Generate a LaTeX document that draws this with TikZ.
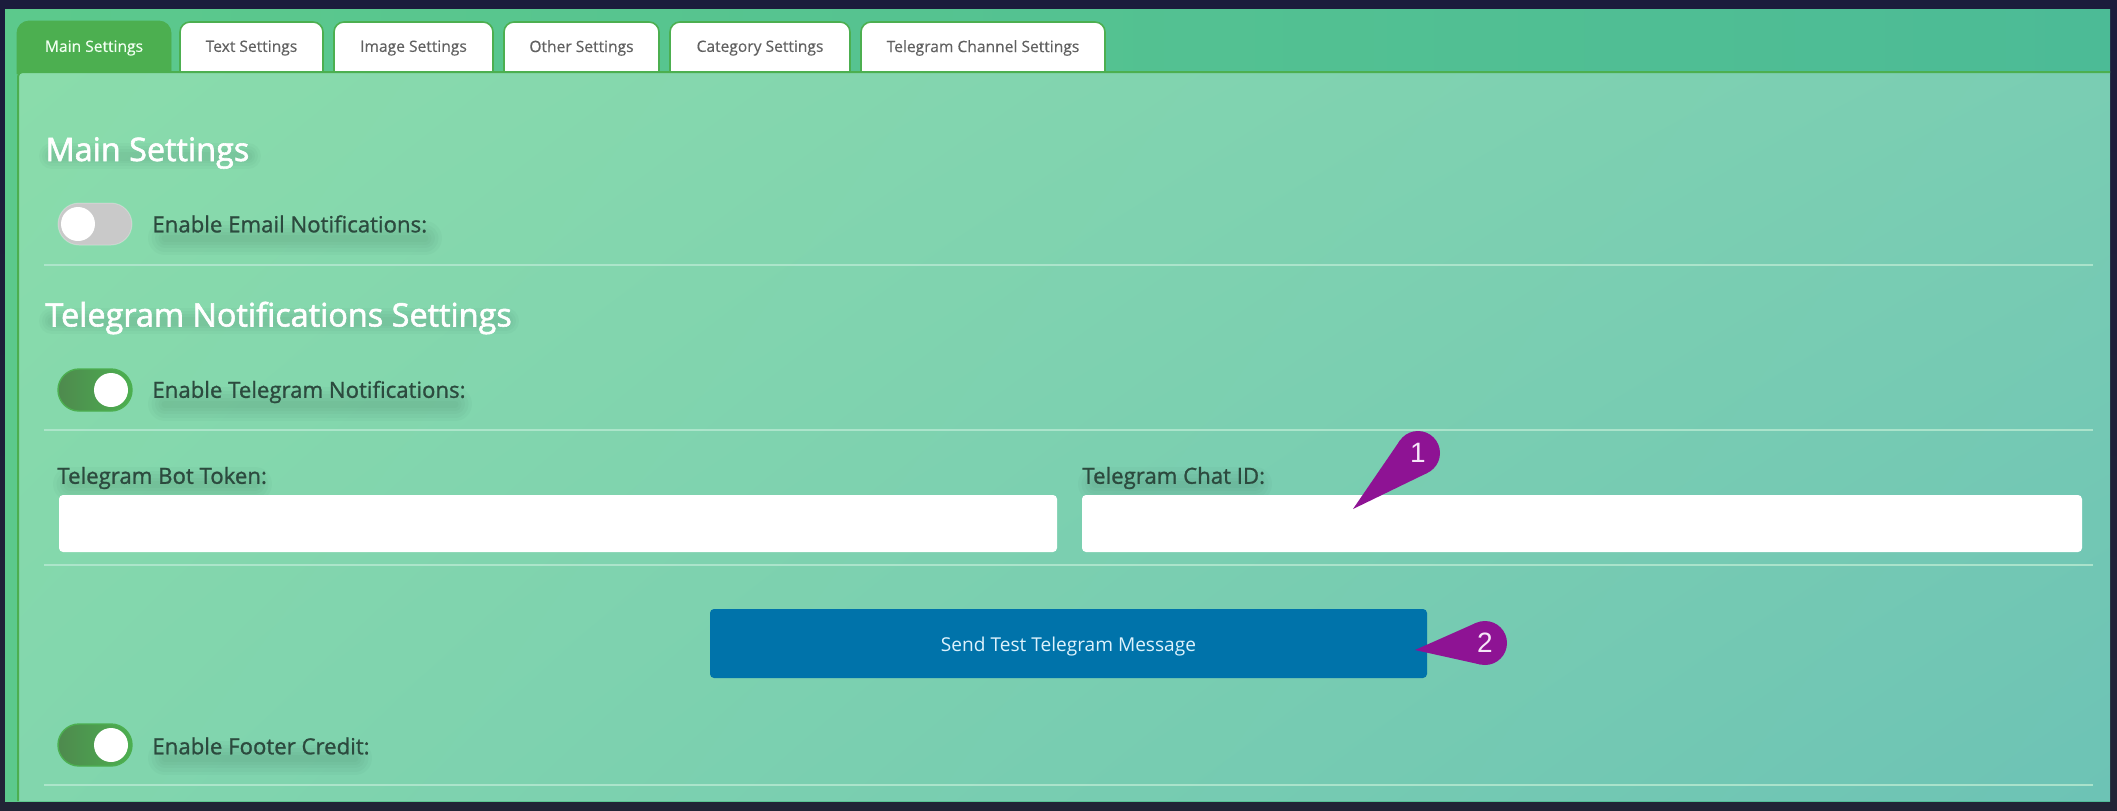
\documentclass[tikz,border=0pt]{standalone}
\usepackage{fontspec}
\setmainfont{Open Sans}
\newfontfamily\tabfont[FakeBold=0.4]{Open Sans}
\newfontfamily\uifont[FakeBold=1.1]{Open Sans}
\newfontfamily\headfont[FakeBold=1.8]{Open Sans}
\newfontfamily\badgefont{Liberation Sans}
\usetikzlibrary{calc,shadings}
\definecolor{framedark}{HTML}{1B1C3C}
\definecolor{framelow}{HTML}{212436}
\definecolor{tabgreen}{HTML}{4CAF50}
\definecolor{stripleft}{HTML}{5CC98C}
\definecolor{stripright}{HTML}{4CBB96}
\definecolor{panelul}{HTML}{8ADCAB}
\definecolor{panelur}{HTML}{7ACDB3}
\definecolor{panelll}{HTML}{82D6AD}
\definecolor{panellr}{HTML}{6DC3B5}
\definecolor{labelink}{HTML}{2C4A3E}
\definecolor{shadowink}{HTML}{1F4A38}
\definecolor{rulelight}{HTML}{B4E8D0}
\definecolor{sendblue}{HTML}{0073AA}
\definecolor{sendtext}{HTML}{DDF2FC}
\definecolor{badgepurple}{HTML}{8E1394}
\definecolor{badgetext}{HTML}{F6E6F8}
\definecolor{toggledark}{HTML}{4E8A4E}
\tikzset{
  tabbox/.style={draw=tabgreen, line width=.8pt, fill=white, rounded corners=5pt},
  tabactive/.style={fill=tabgreen, draw=tabgreen, rounded corners=6pt},
  tablabel/.style={font=\tabfont\fontsize{7.8}{10}\selectfont, text=black!62, inner sep=0pt},
  heading/.style={anchor=west, font=\headfont\fontsize{16.2}{18}\selectfont, text=white, inner sep=0pt},
  fieldlabel/.style={anchor=west, font=\uifont\fontsize{11.1}{13}\selectfont, text=labelink, inner sep=0pt},
  softbar/.style={line cap=round, shadowink, opacity=.03},
  divider/.style={rulelight, line width=.9pt, opacity=.85},
  togglebase/.style={rectangle, rounded corners=10.5pt, minimum width=37pt, minimum height=21pt, inner sep=0pt},
  toggleoff/.style={togglebase, fill=black!21, draw=white, draw opacity=.25, line width=.5pt},
  toggleon/.style={togglebase, left color=toggledark, right color=tabgreen, draw=tabgreen, line width=.7pt},
  toggleknob/.style={circle, fill=white, minimum size=17pt, inner sep=0pt},
  inputbox/.style={rectangle, fill=white, rounded corners=2pt, inner sep=0pt, minimum height=28.5pt, minimum width=500pt},
  sendbutton/.style={rectangle, fill=sendblue, rounded corners=2pt, inner sep=0pt, minimum width=358.5pt, minimum height=34.5pt,
    font=\fontsize{9.55}{11}\selectfont, text=sendtext, text height=8.5pt, text depth=1pt},
  badge/.style={circle, fill=badgepurple, minimum size=22pt, inner sep=0pt, outer sep=0pt},
  badgenum/.style={inner sep=0pt, font=\badgefont\fontsize{14}{16}\selectfont, text=badgetext},
}
\begin{document}
\begin{tikzpicture}[x=0.5pt, y=-0.5pt]
  \useasboundingbox (0, 0) rectangle (2117, 810) ;
  \shade[top color=framedark, bottom color=framelow] (0, 0) rectangle (2117, 810) ;
  \shade[left color=stripleft, right color=stripright] (5, 9) rectangle (2110, 801) ;
  \foreach \xa/\xb/\tabname/\tabtext in {180/323/text/Text Settings, 334/493/image/Image Settings, 504/659/other/Other Settings, 670/850/category/Category Settings, 861/1105/channel/Telegram Channel Settings} {
    \draw[tabbox] (\xa, 74) -- (\xa, 22) -- (\xb, 22) -- (\xb, 74) ;
    \draw ({(\xa+\xb)/2}, 48) node[tablabel] (tab\tabname) {\tabtext} ;
  }
  \draw[tabactive] (17, 74) -- (17, 21) -- (171, 21) -- (171, 74) ;
  \draw (94, 48) node[tablabel, text=green!6!white] (tabmain) {Main Settings} ;
  \shade[upper left=panelul, upper right=panelur, lower left=panelll, lower right=panellr]
    (18, 801) -- (18, 82) .. controls (18, 72) .. (28, 72) -- (2110, 72) -- (2110, 801) ;
  \draw[tabgreen, line width=1pt] (18, 801) -- (18, 82) .. controls (18, 72) .. (28, 72) -- (2110, 72) ;
  \foreach \xa/\xb/\ya in {165/425/238, 165/455/404, 165/355/758, 70/255/484, 1095/1255/484} {
    \foreach \w in {34, 27, 20, 13, 7} {
      \draw[softbar, line width=\w*0.5pt] (\xa, \ya) -- (\xb, \ya) ;
    }
  }
  \foreach \xa/\xb/\ya in {52/248/156, 52/506/321} {
    \foreach \w in {26, 20, 14, 9} {
      \draw[softbar, line width=\w*0.5pt] (\xa, \ya) -- (\xb, \ya) ;
    }
  }
  \foreach \ya in {265, 430, 565, 785} {
    \draw[divider] (44, \ya) -- (2093, \ya) ;
  }
  \draw (45, 153) node[heading] (mainhead) {Main Settings} ;
  \draw (45, 318) node[heading] (telegramhead) {Telegram Notifications Settings} ;
  \draw (95, 224) node[toggleoff] (emailtoggle) {} ;
  \draw (78, 224) node[toggleknob] (emailknob) {} ;
  \draw (152, 224) node[fieldlabel] (emaillabel) {Enable Email Notifications:} ;
  \draw (95, 390) node[toggleon] (telegramtoggle) {} ;
  \draw (111, 390) node[toggleknob] (telegramknob) {} ;
  \draw (152, 392) node[fieldlabel] (telegramlabel) {Enable Telegram Notifications:} ;
  \draw (57, 478) node[fieldlabel] (tokenlabel) {Telegram Bot Token:} ;
  \draw (1082, 478) node[fieldlabel] (chatlabel) {Telegram Chat ID:} ;
  \draw (558, 523.5) node[inputbox, minimum width=499pt] (tokeninput) {} ;
  \draw (1582, 523.5) node[inputbox] (chatinput) {} ;
  \draw (1068.5, 643.5) node[sendbutton] (sendbtn) {Send Test Telegram Message} ;
  \draw (95, 745) node[toggleon] (footertoggle) {} ;
  \draw (111, 745) node[toggleknob] (footerknob) {} ;
  \draw (152, 746) node[fieldlabel] (footerlabel) {Enable Footer Credit:} ;
  \coordinate (tipone) at (1353, 509) ;
  \coordinate (tiptwo) at (1415, 650) ;
  \draw (1418, 453) node[badge] (badgeone) {} ;
  \draw (1485, 643) node[badge] (badgetwo) {} ;
  \fill[badgepurple] (tipone) -- (tangent cs:node=badgeone, point={(tipone)}, solution=1) -- (tangent cs:node=badgeone, point={(tipone)}, solution=2) -- cycle ;
  \fill[badgepurple] (tiptwo) -- (tangent cs:node=badgetwo, point={(tiptwo)}, solution=1) -- (tangent cs:node=badgetwo, point={(tiptwo)}, solution=2) -- cycle ;
  \draw (1418, 453) node[badgenum] (numone) {1} ;
  \draw (1485, 643) node[badgenum] (numtwo) {2} ;
\end{tikzpicture}
\end{document}
